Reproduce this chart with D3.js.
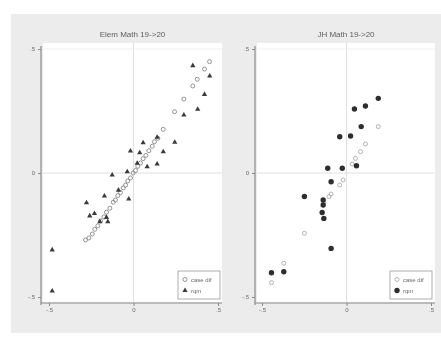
<!DOCTYPE html>
<html><head><meta charset="utf-8">
<script src="https://cdn.jsdelivr.net/npm/d3@7"></script>
<style>body{margin:0;background:#fff}svg{display:block}</style>
</head><body>
<script>
const titles = ["Elem Math 19->20", "JH Math 19->20"];
const xTicks = [-0.5, 0, 0.5];
const xTickLabels = ["-.5", "0", ".5"];
const yTicks = [-0.5, 0, 0.5];
const yTickLabels = ["-.5", "0", ".5"];
const legendLabels = ["case dif", "rqm"];

// Elem panel
const elemCaseX = [0.450,0.420,0.377,0.351,0.298,0.243,0.176,0.144,0.124,0.111,0.091,0.073,0.057,0.041,0.025,0.012,-0.002,-0.018,-0.034,-0.047,-0.061,-0.077,-0.093,-0.107,-0.120,-0.140,-0.160,-0.175,-0.195,-0.211,-0.229,-0.244,-0.264,-0.284];
const elemCaseY = [0.449,0.419,0.378,0.351,0.298,0.247,0.176,0.140,0.126,0.108,0.090,0.071,0.058,0.040,0.027,0.010,0.000,-0.020,-0.032,-0.049,-0.060,-0.079,-0.091,-0.109,-0.118,-0.142,-0.158,-0.177,-0.193,-0.213,-0.227,-0.246,-0.262,-0.270];
const elemRqmX = [0.351,0.451,0.420,0.380,0.298,0.244,0.176,0.140,0.057,0.037,-0.018,0.140,0.081,0.022,-0.037,-0.126,-0.172,-0.028,-0.278,-0.259,-0.231,-0.160,-0.152,-0.199,-0.481,-0.481,-0.089];
const elemRqmY = [0.433,0.391,0.317,0.257,0.234,0.124,0.086,0.144,0.122,0.082,0.089,0.036,0.025,0.039,0.005,-0.008,-0.093,-0.105,-0.120,-0.173,-0.163,-0.179,-0.196,-0.196,-0.310,-0.476,-0.069];

// JH panel
const jhCaseX = [0.188,0.112,0.083,0.053,0.034,-0.020,-0.040,-0.091,-0.104,-0.134,-0.249,-0.371,-0.444];
const jhCaseY = [0.187,0.117,0.086,0.059,0.036,-0.028,-0.048,-0.085,-0.095,-0.120,-0.243,-0.364,-0.442];
const jhRqmX = [0.188,0.047,0.112,0.087,0.024,-0.040,0.059,-0.111,-0.025,-0.091,-0.249,-0.138,-0.138,-0.144,-0.134,-0.091,-0.371,-0.444];
const jhRqmY = [0.301,0.258,0.270,0.187,0.149,0.146,0.029,0.019,0.019,-0.035,-0.095,-0.109,-0.129,-0.159,-0.183,-0.304,-0.398,-0.402];

const W = 441, H = 340;
const svg = d3.select("body").append("svg").attr("width", W).attr("height", H)
  .style("font-family", "Liberation Sans, Arial, sans-serif");
const defs = svg.append("defs");
defs.append("filter").attr("id","blur").append("feGaussianBlur").attr("stdDeviation", 0.6);

const root = svg.append("g").attr("filter","url(#blur)");
root.append("rect").attr("x", 11).attr("y", 14).attr("width", 430).attr("height", 319).attr("fill", "#ececec");

const panels = [
  {title: titles[0], px0: 43, px1: 222, ax0: 49, ax1: 218, caseX: elemCaseX, caseY: elemCaseY, rqmX: elemRqmX, rqmY: elemRqmY, kind: "elem", leg: [178, 271]},
  {title: titles[1], px0: 257, px1: 435, ax0: 262, ax1: 431, caseX: jhCaseX, caseY: jhCaseY, rqmX: jhRqmX, rqmY: jhRqmY, kind: "jh", leg: [390, 271]}
];
const pt = 43, pb = 302;

panels.forEach(p => {
  const x = d3.scaleLinear().domain([-0.5, 0.5]).range([p.ax0, p.ax1]);
  const y = d3.scaleLinear().domain([-0.5, 0.5]).range([297, 49]);
  const g = root.append("g");
  g.append("rect").attr("x", p.px0).attr("y", pt).attr("width", p.px1 - p.px0).attr("height", pb - pt).attr("fill", "#fff");
  // grid
  g.append("line").attr("x1", x(0)).attr("x2", x(0)).attr("y1", pt).attr("y2", pb).attr("stroke", "#d8d8d8").attr("stroke-width", 0.8);
  g.append("line").attr("x1", p.px0).attr("x2", p.px1).attr("y1", y(0)).attr("y2", y(0)).attr("stroke", "#d8d8d8").attr("stroke-width", 0.8);
  g.append("line").attr("x1", p.px0).attr("x2", p.px1).attr("y1", y(0.5)).attr("y2", y(0.5)).attr("stroke", "#eeeeee").attr("stroke-width", 0.8);
  // axes
  const xa = d3.axisBottom(x).tickValues(xTicks).tickFormat((d,i) => xTickLabels[i]).tickSize(3).tickPadding(2);
  const ya = d3.axisLeft(y).tickValues(yTicks).tickFormat((d,i) => yTickLabels[i]).tickSize(3).tickPadding(3);
  const gx = g.append("g").attr("transform", `translate(0,${pb + 1})`).call(xa);
  const gy = g.append("g").attr("transform", `translate(${p.px0 - 2},0)`).call(ya);
  [gx, gy].forEach(a => {
    a.select(".domain").attr("stroke", "#8a8a8a").attr("stroke-width", 1.2);
    a.selectAll(".tick line").attr("stroke", "#8a8a8a");
    a.selectAll(".tick text").attr("fill", "#6a6a6a").style("font-size", "6px");
  });
  gx.select(".domain").attr("d", `M${p.px0 - 2},0H${p.px1}`);
  gy.select(".domain").attr("d", `M0,${pt + 3}V${pb + 3}`);
  // title
  g.append("text").attr("x", (p.px0 + p.px1) / 2).attr("y", 37).attr("text-anchor", "middle")
    .attr("fill", "#5e5e5e").style("font-size", "8px").text(p.title);

  const caseData = p.caseX.map((v, i) => [v, p.caseY[i]]);
  const rqmData = p.rqmX.map((v, i) => [v, p.rqmY[i]]);
  g.selectAll(".case").data(caseData).join("circle")
    .attr("cx", d => x(d[0])).attr("cy", d => y(d[1])).attr("r", 2)
    .attr("fill", "none").attr("stroke", p.kind === "elem" ? "#888" : "#aaa").attr("stroke-width", 0.9);
  if (p.kind === "elem") {
    const tri = d3.symbol().type(d3.symbolTriangle).size(12);
    g.selectAll(".rqm").data(rqmData).join("path")
      .attr("d", tri).attr("transform", d => `translate(${x(d[0])},${y(d[1])})`).attr("fill", "#3a3a3a");
  } else {
    g.selectAll(".rqm").data(rqmData).join("circle")
      .attr("cx", d => x(d[0])).attr("cy", d => y(d[1])).attr("r", 2.7).attr("fill", "#2e2e2e");
  }
  // legend
  const [lx, ly] = p.leg;
  const lg = g.append("g");
  lg.append("rect").attr("x", lx).attr("y", ly).attr("width", 42).attr("height", 28)
    .attr("fill", "#fff").attr("stroke", "#999").attr("stroke-width", 0.8);
  lg.append("circle").attr("cx", lx + 7).attr("cy", ly + 8.5).attr("r", 2).attr("fill", "none")
    .attr("stroke", p.kind === "elem" ? "#888" : "#aaa").attr("stroke-width", 0.9);
  if (p.kind === "elem") {
    lg.append("path").attr("d", d3.symbol().type(d3.symbolTriangle).size(12)).attr("transform", `translate(${lx + 7},${ly + 19.5})`).attr("fill", "#3a3a3a");
  } else {
    lg.append("circle").attr("cx", lx + 7).attr("cy", ly + 19.5).attr("r", 2.7).attr("fill", "#2e2e2e");
  }
  lg.append("text").attr("x", lx + 13).attr("y", ly + 10.5).attr("fill", "#6a6a6a").style("font-size", "6px").text(legendLabels[0]);
  lg.append("text").attr("x", lx + 13).attr("y", ly + 21.5).attr("fill", "#6a6a6a").style("font-size", "6px").text(legendLabels[1]);
});
</script>
</body></html>
